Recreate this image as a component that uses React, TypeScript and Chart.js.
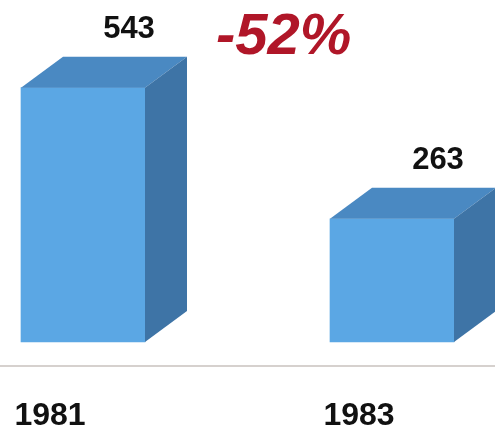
import React, { useEffect, useRef } from "react";
import { Chart, registerables } from "chart.js";

Chart.register(...registerables);

const categories = ["1981", "1983"];
const values = [543, 263];
const changeLabel = "-52%";

const FRONT = "#5ba7e4";
const TOP = "#4a89c2";
const SIDE = "#3e74a6";
const DX = 42;
const DY = 31;

const cubePlugin = {
  id: "cube3d",
  afterDatasetsDraw(chart: any) {
    const ctx = chart.ctx as CanvasRenderingContext2D;
    const meta = chart.getDatasetMeta(0);
    ctx.save();
    // floor line
    ctx.strokeStyle = "#d6d1ce";
    ctx.lineWidth = 2;
    ctx.beginPath();
    ctx.moveTo(0, 366);
    ctx.lineTo(chart.width, 366);
    ctx.stroke();
    meta.data.forEach((bar: any, i: number) => {
      const { x, y, base, width } = bar.getProps(["x", "y", "base", "width"], true);
      const l = x - width / 2;
      const r = x + width / 2;
      // top face
      ctx.fillStyle = TOP;
      ctx.beginPath();
      ctx.moveTo(l, y);
      ctx.lineTo(l + DX, y - DY);
      ctx.lineTo(r + DX, y - DY);
      ctx.lineTo(r, y);
      ctx.closePath();
      ctx.fill();
      // side face
      ctx.fillStyle = SIDE;
      ctx.beginPath();
      ctx.moveTo(r, y);
      ctx.lineTo(r + DX, y - DY);
      ctx.lineTo(r + DX, base - DY);
      ctx.lineTo(r, base);
      ctx.closePath();
      ctx.fill();
      // value label
      ctx.fillStyle = "#111111";
      ctx.font = "bold 31px 'Liberation Sans', Arial, sans-serif";
      ctx.textAlign = "center";
      ctx.textBaseline = "alphabetic";
      ctx.fillText(String(values[i]), x + 46, y - 50);
      // category label
      ctx.font = "bold 32px 'Liberation Sans', Arial, sans-serif";
      ctx.fillText(categories[i], x - 33, 425);
    });
    // change label
    ctx.fillStyle = "#b01628";
    ctx.font = "italic bold 58px 'Liberation Sans', Arial, sans-serif";
    ctx.textAlign = "left";
    ctx.fillText(changeLabel, 216, 54);
    ctx.restore();
  },
};

export default function App() {
  const ref = useRef<HTMLCanvasElement | null>(null);
  useEffect(() => {
    document.body.style.margin = "0";
    const chart = new Chart(ref.current!, {
      type: "bar",
      data: {
        labels: categories,
        datasets: [
          {
            data: values,
            backgroundColor: FRONT,
            borderWidth: 0,
            barThickness: 124,
            clip: false as any,
          },
        ],
      },
      options: {
        animation: false,
        responsive: false,
        layout: { padding: { left: 83, right: 103, top: 61, bottom: 90 } },
        plugins: { legend: { display: false }, tooltip: { enabled: false } },
        scales: {
          x: { display: false, offset: false },
          y: { display: false, min: 0, max: 600 },
        },
      },
      plugins: [cubePlugin],
    });
    return () => chart.destroy();
  }, []);
  return (
    <div style={{ position: "fixed", left: 0, top: 0, width: 495, height: 432, background: "#fff" }}>
      <canvas ref={ref} width={495} height={432} />
    </div>
  );
}
